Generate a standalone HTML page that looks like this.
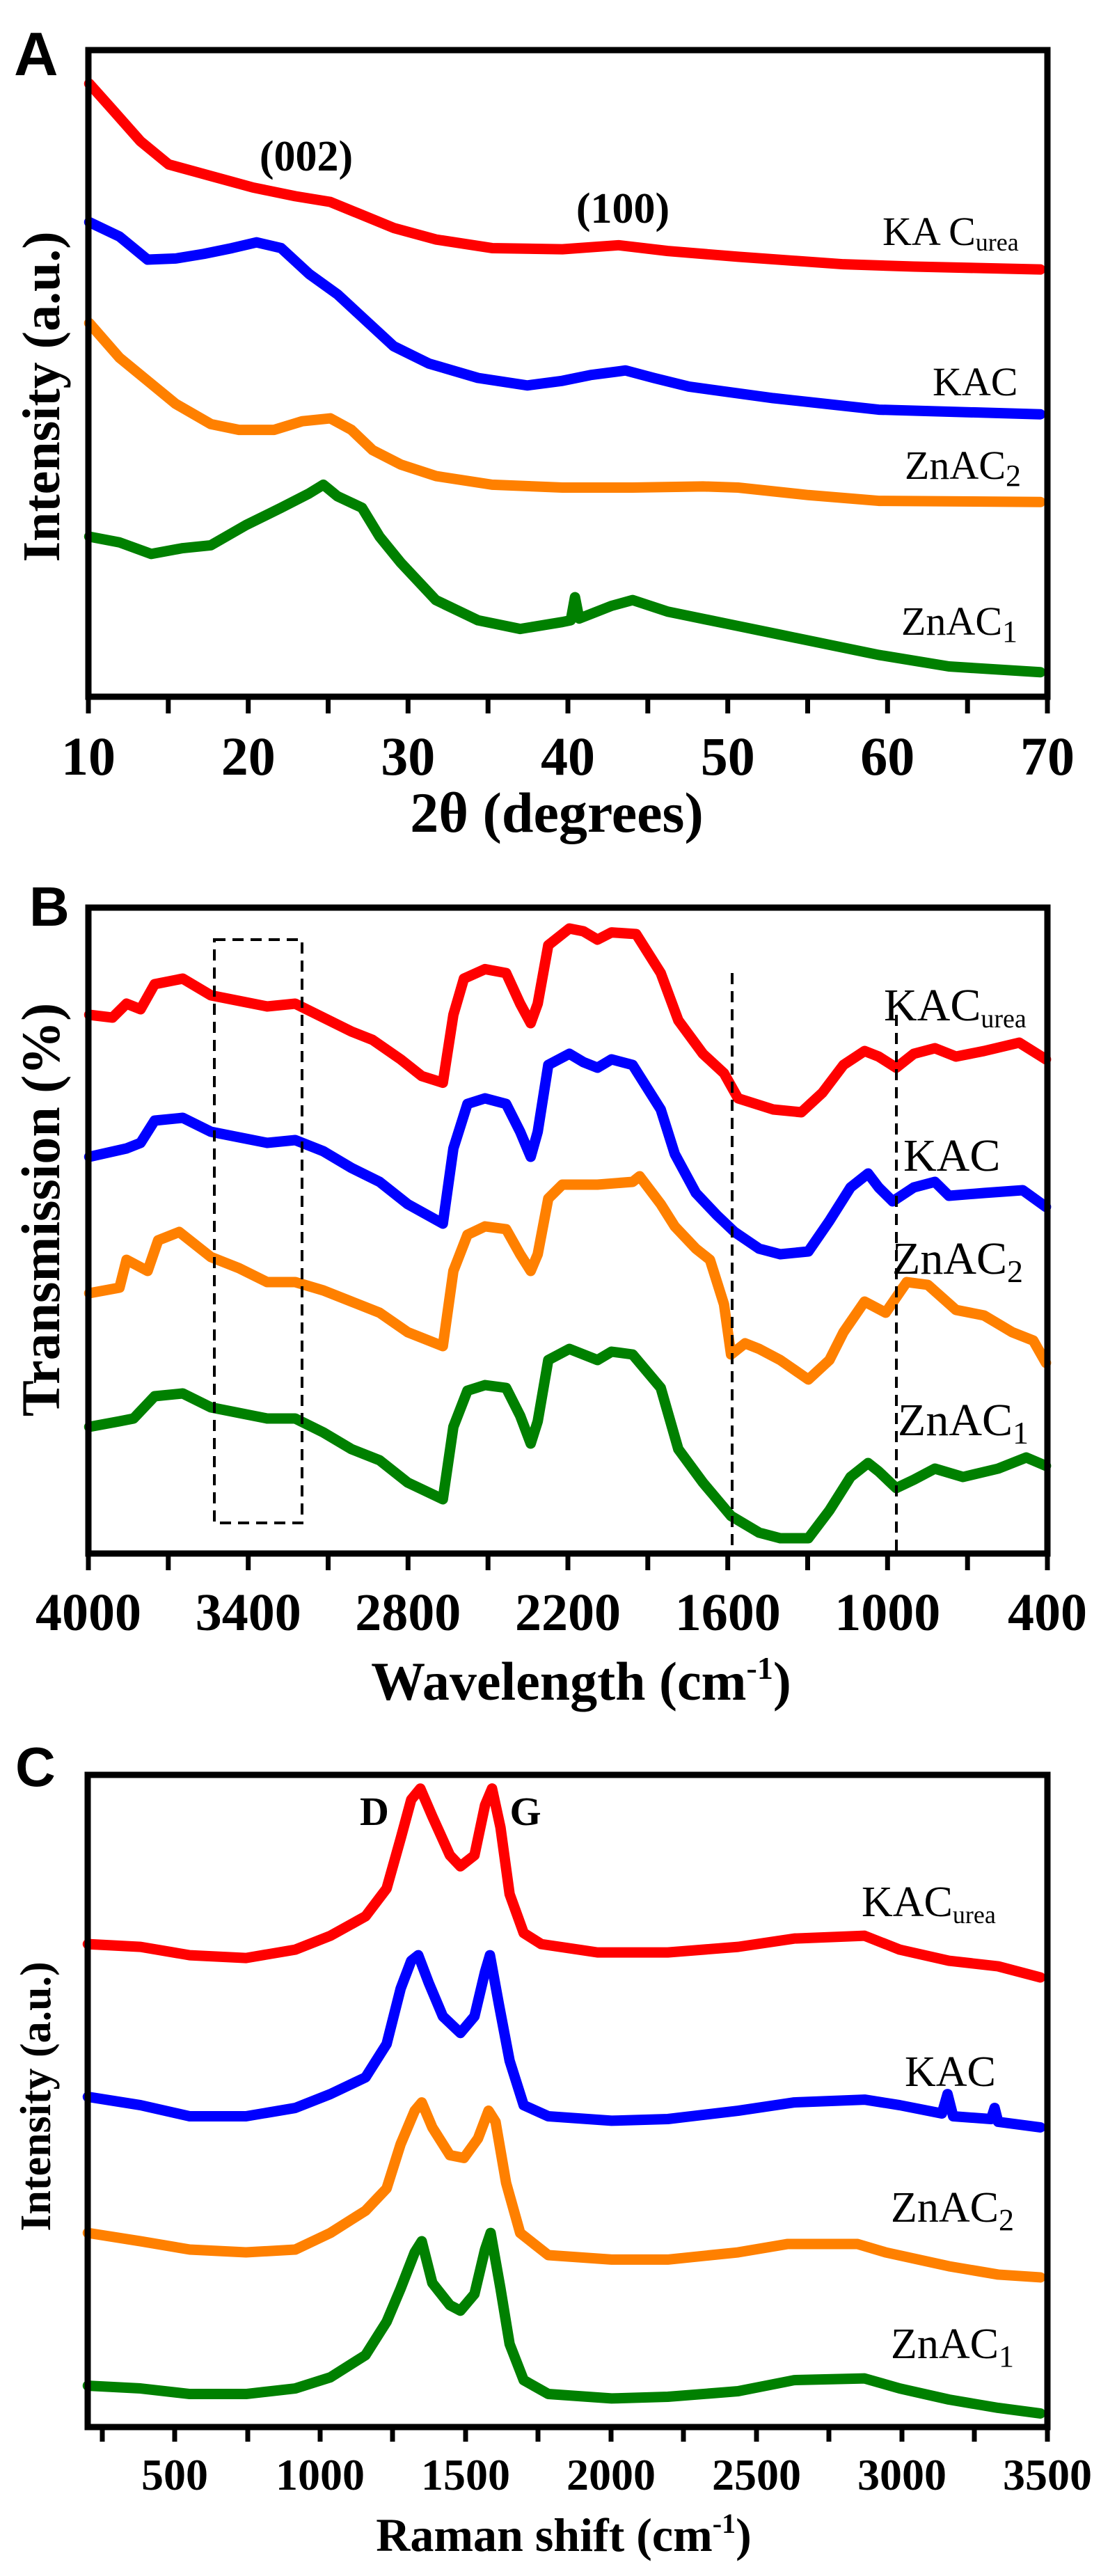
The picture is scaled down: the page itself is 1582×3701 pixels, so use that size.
<!DOCTYPE html>
<html><head><meta charset="utf-8"><style>
html,body{margin:0;padding:0;background:#fff}
svg{display:block}
.t{font-family:"Liberation Serif",serif;font-weight:bold;fill:#000}
.l{font-family:"Liberation Serif",serif;fill:#000}
.p{font-family:"Liberation Sans",sans-serif;font-weight:bold;fill:#000}
polyline{fill:none;stroke-width:15;stroke-linejoin:round;stroke-linecap:round}
</style></head><body>
<svg width="1582" height="3701" viewBox="0 0 1582 3701" xmlns="http://www.w3.org/2000/svg">
<rect width="1582" height="3701" fill="#fff"/>

<!-- ===== Panel A ===== -->
<text class="p" x="20" y="108" font-size="88">A</text>
<g transform="translate(0,0) scale(1.01,0.829)">
<polyline vector-effect="non-scaling-stroke" stroke="#ff0000" points="127,145 160,190 200,245 240,285 300,305 360,325 420,340 470,350 510,370 560,395 620,415 700,430 800,432 880,425 950,435 1050,445 1200,458 1300,462 1480,467"/>
<polyline vector-effect="non-scaling-stroke" stroke="#0000ff" points="127,385 170,410 210,450 250,448 290,440 330,430 365,420 400,430 440,475 480,510 520,555 560,600 610,630 680,655 750,668 800,660 840,650 890,642 930,655 980,670 1100,690 1250,710 1480,718"/>
<polyline vector-effect="non-scaling-stroke" stroke="#ff8000" points="127,560 170,620 210,660 250,700 300,735 340,745 390,745 430,730 470,725 500,745 530,780 570,805 620,825 700,840 800,845 900,845 1000,843 1050,845 1150,858 1250,868 1480,870"/>
<polyline vector-effect="non-scaling-stroke" stroke="#008000" points="127,930 170,940 215,960 260,950 300,945 350,910 400,880 440,855 460,840 480,860 515,880 540,930 570,975 620,1040 680,1075 740,1090 800,1078 812,1075 818,1035 824,1072 870,1050 900,1040 950,1060 1050,1085 1110,1100 1150,1110 1250,1135 1350,1155 1480,1165"/>
</g>
<rect x="127" y="72" width="1378" height="929" fill="none" stroke="#000" stroke-width="9"/>
<g stroke="#000" stroke-width="7">
<line x1="127" y1="1001" x2="127" y2="1025"/><line x1="241.8" y1="1001" x2="241.8" y2="1025"/><line x1="356.7" y1="1001" x2="356.7" y2="1025"/><line x1="471.5" y1="1001" x2="471.5" y2="1025"/><line x1="586.3" y1="1001" x2="586.3" y2="1025"/><line x1="701.2" y1="1001" x2="701.2" y2="1025"/><line x1="816" y1="1001" x2="816" y2="1025"/><line x1="930.8" y1="1001" x2="930.8" y2="1025"/><line x1="1045.7" y1="1001" x2="1045.7" y2="1025"/><line x1="1160.5" y1="1001" x2="1160.5" y2="1025"/><line x1="1275.3" y1="1001" x2="1275.3" y2="1025"/><line x1="1390.2" y1="1001" x2="1390.2" y2="1025"/><line x1="1505" y1="1001" x2="1505" y2="1025"/>
</g>
<g class="t" font-size="78" text-anchor="middle">
<text x="127" y="1113">10</text><text x="356.7" y="1113">20</text><text x="586.3" y="1113">30</text><text x="816" y="1113">40</text><text x="1045.7" y="1113">50</text><text x="1275.3" y="1113">60</text><text x="1505" y="1113">70</text>
</g>
<text class="t" x="800" y="1195" font-size="82" text-anchor="middle">2θ (degrees)</text>
<text class="t" font-size="76" text-anchor="middle" transform="translate(85,570) rotate(-90)">Intensity (a.u.)</text>
<text class="t" x="440" y="245" font-size="62" text-anchor="middle">(002)</text>
<text class="t" x="895" y="320" font-size="62" text-anchor="middle">(100)</text>
<g class="l" font-size="58">
<text x="1268" y="352">KA C<tspan font-size="36" dy="8">urea</tspan></text>
<text x="1340" y="568">KAC</text>
<text x="1300" y="688">ZnAC<tspan font-size="44" dy="10">2</tspan></text>
<text x="1295" y="912">ZnAC<tspan font-size="44" dy="10">1</tspan></text>
</g>

<!-- ===== Panel B ===== -->
<text class="p" x="42" y="1330" font-size="80">B</text>
<g transform="translate(0,1250) scale(1.01,0.8)">
<polyline vector-effect="non-scaling-stroke" stroke="#ff0000" points="127,260 160,265 180,240 200,250 220,205 260,195 300,225 340,235 380,245 420,240 460,265 500,290 530,305 570,340 600,370 630,382 645,260 660,195 690,178 720,185 740,240 755,275 765,240 780,135 810,105 830,110 850,125 870,112 905,115 940,185 965,270 1000,330 1030,365 1050,410 1100,430 1140,435 1170,400 1200,350 1230,325 1250,335 1275,355 1300,330 1330,320 1360,335 1400,325 1450,310 1488,340"/>
<polyline vector-effect="non-scaling-stroke" stroke="#0000ff" points="127,515 180,500 200,490 220,450 260,445 300,470 340,480 380,490 420,485 460,505 500,535 540,560 580,600 630,635 645,500 665,420 690,410 720,420 740,470 755,515 765,470 780,350 810,330 830,345 850,355 870,340 900,350 940,430 960,510 990,580 1020,620 1045,650 1080,680 1110,690 1150,685 1180,630 1210,570 1235,545 1250,570 1270,595 1300,570 1330,560 1350,585 1400,580 1455,575 1488,605"/>
<polyline vector-effect="non-scaling-stroke" stroke="#ff8000" points="127,760 170,750 180,700 210,720 225,665 255,650 300,695 340,715 380,740 420,740 460,755 500,775 540,795 580,830 630,855 645,720 665,655 690,640 720,645 740,690 755,720 765,690 780,590 800,565 850,565 900,560 910,550 940,600 960,640 990,680 1010,700 1030,780 1040,870 1060,850 1080,860 1110,880 1150,915 1180,880 1200,830 1230,775 1260,795 1290,740 1320,745 1360,790 1400,800 1440,830 1470,845 1488,885"/>
<polyline vector-effect="non-scaling-stroke" stroke="#008000" points="127,1000 170,990 190,985 220,945 260,940 300,965 340,975 380,985 420,985 460,1010 500,1040 540,1060 580,1100 630,1130 645,1000 665,935 690,925 720,930 740,980 755,1030 765,990 780,880 810,860 830,870 850,880 870,865 900,870 940,930 965,1040 1000,1100 1040,1160 1080,1190 1110,1200 1150,1200 1180,1150 1210,1090 1235,1065 1250,1080 1275,1110 1300,1095 1330,1075 1370,1090 1420,1075 1460,1055 1488,1070"/>
</g>
<rect x="308" y="1350" width="126" height="838" fill="none" stroke="#000" stroke-width="4" stroke-dasharray="16,10"/>
<line x1="1052" y1="1398" x2="1052" y2="2232" stroke="#000" stroke-width="4" stroke-dasharray="16,10"/>
<line x1="1288" y1="1458" x2="1288" y2="2232" stroke="#000" stroke-width="4" stroke-dasharray="16,10"/>
<rect x="127" y="1304" width="1378" height="928" fill="none" stroke="#000" stroke-width="9"/>
<g stroke="#000" stroke-width="7">
<line x1="127" y1="2232" x2="127" y2="2256"/><line x1="241.8" y1="2232" x2="241.8" y2="2256"/><line x1="356.7" y1="2232" x2="356.7" y2="2256"/><line x1="471.5" y1="2232" x2="471.5" y2="2256"/><line x1="586.3" y1="2232" x2="586.3" y2="2256"/><line x1="701.2" y1="2232" x2="701.2" y2="2256"/><line x1="816" y1="2232" x2="816" y2="2256"/><line x1="930.8" y1="2232" x2="930.8" y2="2256"/><line x1="1045.7" y1="2232" x2="1045.7" y2="2256"/><line x1="1160.5" y1="2232" x2="1160.5" y2="2256"/><line x1="1275.3" y1="2232" x2="1275.3" y2="2256"/><line x1="1390.2" y1="2232" x2="1390.2" y2="2256"/><line x1="1505" y1="2232" x2="1505" y2="2256"/>
</g>
<g class="t" font-size="76" text-anchor="middle">
<text x="127" y="2342">4000</text><text x="356.7" y="2342">3400</text><text x="586.3" y="2342">2800</text><text x="816" y="2342">2200</text><text x="1045.7" y="2342">1600</text><text x="1275.3" y="2342">1000</text><text x="1505" y="2342">400</text>
</g>
<text class="t" x="835" y="2442" font-size="78" text-anchor="middle">Wavelength (cm<tspan font-size="46" dy="-30">-1</tspan><tspan dy="30">)</tspan></text>
<text class="t" font-size="78" text-anchor="middle" transform="translate(85,1738) rotate(-90)">Transmission (%)</text>
<g class="l" font-size="66">
<text x="1270" y="1466">KAC<tspan font-size="38" dy="10">urea</tspan></text>
<text x="1298" y="1682">KAC</text>
<text x="1282" y="1830">ZnAC<tspan font-size="46" dy="12">2</tspan></text>
<text x="1290" y="2062">ZnAC<tspan font-size="46" dy="12">1</tspan></text>
</g>

<!-- ===== Panel C ===== -->
<text class="p" x="22" y="2566" font-size="80">C</text>
<g transform="translate(0,2450) scale(1.01,0.798)">
<polyline vector-effect="non-scaling-stroke" stroke="#ff0000" points="125,430 200,435 270,450 350,455 420,440 470,415 520,380 550,330 570,240 585,170 598,150 615,200 640,270 655,290 675,270 690,180 700,150 712,220 725,340 745,410 770,430 850,445 950,445 1050,435 1130,420 1230,415 1280,440 1350,460 1420,470 1480,490"/>
<polyline vector-effect="non-scaling-stroke" stroke="#0000ff" points="125,705 200,720 270,740 350,740 420,725 470,700 520,670 550,610 570,510 585,460 595,450 610,500 630,560 655,590 675,560 690,480 697,450 710,540 725,640 745,720 780,740 870,748 950,745 1050,730 1130,715 1230,710 1280,720 1340,735 1348,700 1356,740 1410,745 1415,725 1420,750 1480,760"/>
<polyline vector-effect="non-scaling-stroke" stroke="#ff8000" points="125,950 200,965 270,980 350,985 420,980 470,950 520,910 550,870 570,790 590,730 600,715 615,760 640,810 660,815 680,780 695,730 705,750 720,860 740,950 780,990 870,998 950,998 1050,985 1120,970 1220,970 1260,985 1350,1010 1420,1025 1480,1030"/>
<polyline vector-effect="non-scaling-stroke" stroke="#008000" points="125,1225 200,1230 270,1240 350,1240 420,1230 470,1210 520,1170 550,1110 570,1050 590,985 600,965 615,1040 640,1080 655,1090 675,1060 690,980 698,950 712,1050 725,1150 745,1215 780,1240 870,1248 950,1245 1050,1235 1130,1215 1230,1212 1280,1230 1350,1250 1420,1265 1480,1275"/>
</g>
<rect x="126" y="2550" width="1379" height="937" fill="none" stroke="#000" stroke-width="9"/>
<g stroke="#000" stroke-width="7">
<line x1="147" y1="3487" x2="147" y2="3508"/><line x1="251" y1="3487" x2="251" y2="3508"/><line x1="356" y1="3487" x2="356" y2="3508"/><line x1="460" y1="3487" x2="460" y2="3508"/><line x1="564" y1="3487" x2="564" y2="3508"/><line x1="669" y1="3487" x2="669" y2="3508"/><line x1="773" y1="3487" x2="773" y2="3508"/><line x1="878" y1="3487" x2="878" y2="3508"/><line x1="982" y1="3487" x2="982" y2="3508"/><line x1="1087" y1="3487" x2="1087" y2="3508"/><line x1="1191" y1="3487" x2="1191" y2="3508"/><line x1="1296" y1="3487" x2="1296" y2="3508"/><line x1="1400" y1="3487" x2="1400" y2="3508"/><line x1="1505" y1="3487" x2="1505" y2="3508"/>
</g>
<g class="t" font-size="64" text-anchor="middle">
<text x="251" y="3577">500</text><text x="460" y="3577">1000</text><text x="669" y="3577">1500</text><text x="878" y="3577">2000</text><text x="1087" y="3577">2500</text><text x="1296" y="3577">3000</text><text x="1505" y="3577">3500</text>
</g>
<text class="t" x="810" y="3665" font-size="68" text-anchor="middle">Raman shift (cm<tspan font-size="40" dy="-26">-1</tspan><tspan dy="26">)</tspan></text>
<text class="t" font-size="62" text-anchor="middle" transform="translate(72,3012) rotate(-90)">Intensity (a.u.)</text>
<text class="t" x="538" y="2622" font-size="58" text-anchor="middle">D</text>
<text class="t" x="755" y="2622" font-size="58" text-anchor="middle">G</text>
<g class="l" font-size="62">
<text x="1238" y="2753">KAC<tspan font-size="36" dy="10">urea</tspan></text>
<text x="1300" y="2997">KAC</text>
<text x="1280" y="3192">ZnAC<tspan font-size="44" dy="12">2</tspan></text>
<text x="1280" y="3388">ZnAC<tspan font-size="44" dy="12">1</tspan></text>
</g>
</svg>
</body></html>
